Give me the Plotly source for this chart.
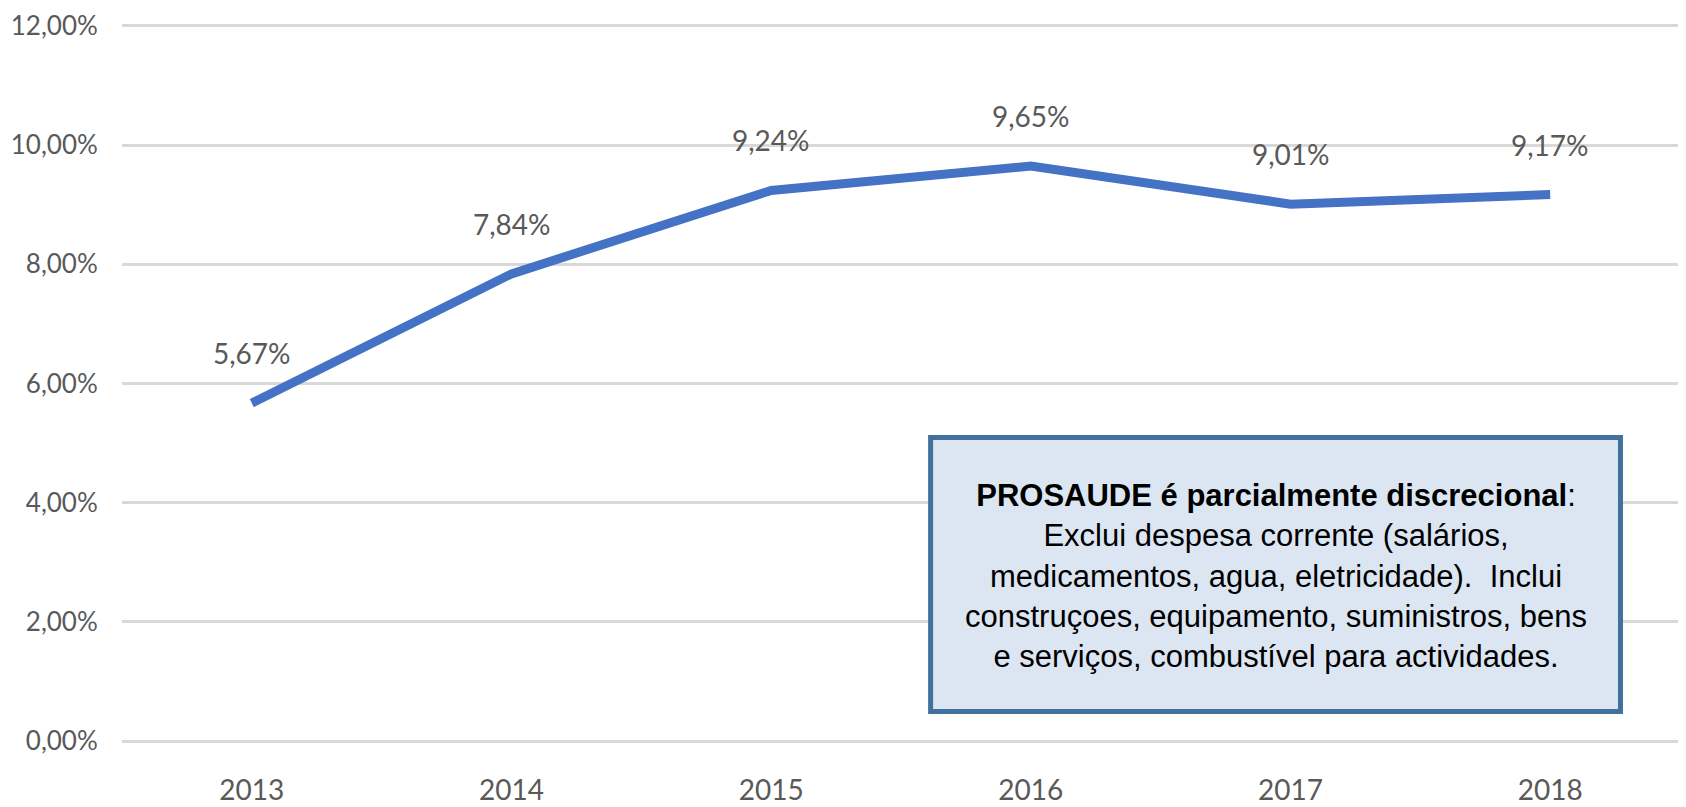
import plotly.graph_objects as go

years = ["2013", "2014", "2015", "2016", "2017", "2018"]
values = [5.67, 7.84, 9.24, 9.65, 9.01, 9.17]
labels = ["5,67%", "7,84%", "9,24%", "9,65%", "9,01%", "9,17%"]
y_ticks = [0, 2, 4, 6, 8, 10, 12]
y_tick_labels = ["0,00%", "2,00%", "4,00%", "6,00%", "8,00%", "10,00%", "12,00%"]

box_title = "PROSAUDE é parcialmente discrecional"
box_lines = [
    "Exclui despesa corrente (salários,",
    "medicamentos, agua, eletricidade).  Inclui",
    "construçoes, equipamento, suministros, bens",
    "e serviços, combustível para actividades.",
]

FONT = "Lato, sans-serif"
GRAY = "#595959"

fig = go.Figure()
fig.add_trace(go.Scatter(
    x=years, y=values, mode="lines",
    line=dict(color="#4472C4", width=9),
    hoverinfo="skip", showlegend=False,
))

for i, (y, t) in enumerate(zip(values, labels)):
    fig.add_annotation(x=i, y=y, text=t, showarrow=False, yshift=50,
                       xanchor="center", yanchor="middle",
                       font=dict(family=FONT, size=28, color=GRAY))

fig.add_shape(type="rect", xref="paper", yref="paper",
              x0=0.519, x1=0.9618, y0=0.0411, y1=0.4227,
              fillcolor="#DCE6F2", line=dict(color="#41719C", width=5), layer="above")

fig.add_annotation(xref="paper", yref="paper", x=0.7405, y=0.2298,
                   xanchor="center", yanchor="middle",
                   text="<b>" + box_title + "</b>:<br>" + "<br>".join(box_lines),
                   showarrow=False, align="center",
                   font=dict(family="Liberation Sans, Arial, sans-serif", size=31, color="#000000"))

fig.update_layout(
    width=1678, height=799,
    margin=dict(l=114, r=6, t=15, b=66),
    paper_bgcolor="white", plot_bgcolor="white",
    xaxis=dict(type="category", range=[-0.5, 5.5], showgrid=False, showline=False,
               zeroline=False, ticks="", ticklabelstandoff=30, automargin=False,
               tickfont=dict(family=FONT, size=28, color=GRAY)),
    yaxis=dict(range=[0, 12.05], tickvals=y_ticks, ticktext=y_tick_labels,
               showgrid=True, gridcolor="#D9D9D9", gridwidth=2.5,
               zeroline=True, zerolinecolor="#D9D9D9", zerolinewidth=2.5,
               showline=False, ticks="outside", ticklen=18, tickcolor="rgba(0,0,0,0)",
               automargin=False,
               tickfont=dict(family=FONT, size=26, color=GRAY)),
)

fig.write_html("out.html")
